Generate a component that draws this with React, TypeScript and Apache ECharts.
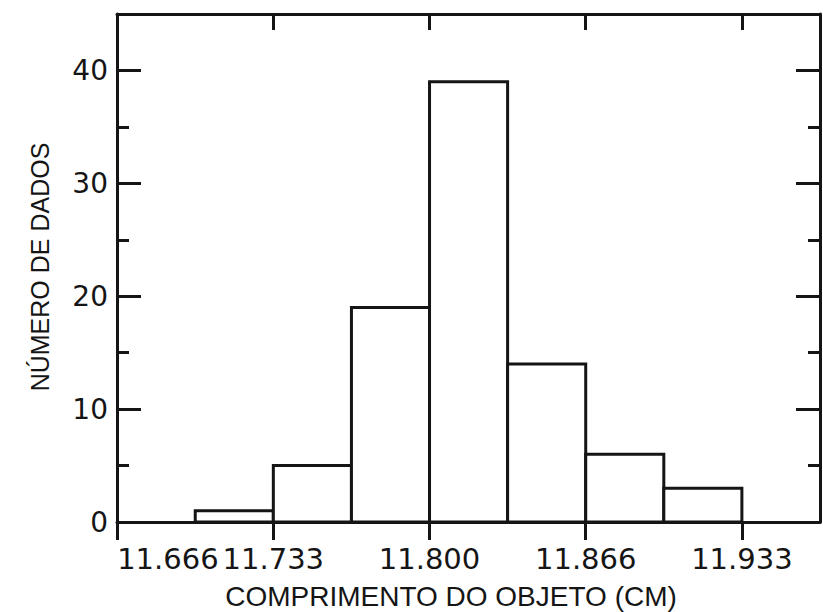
import React, { useEffect, useRef } from "react";
import * as echarts from "echarts";

// Histogram bins (cm) and counts
const binEdges = [11.7, 11.73333, 11.76667, 11.8, 11.83333, 11.86667, 11.9, 11.93333];
const counts = [1, 5, 19, 39, 14, 6, 3];

// Axis ticks
const xTickValues = [11.66667, 11.73333, 11.8, 11.86667, 11.93333];
const xTickLabels = ["11.666", "11.733", "11.800", "11.866", "11.933"];
// half-bin positions spanning the frame (tick axis: every other one is ticked)
const xHalfSteps = ["11.666", "11.700", "11.733", "11.767", "11.800", "11.833", "11.866", "11.900", "11.933", "11.967"];
const xMin = 11.6666;
const xMax = 11.96667;
const yMin = 0;
const yMax = 45;
const yMajor = 10;
const yMinor = 5;

const xTitle = "COMPRIMENTO DO OBJETO (CM)";
const yTitle = "NÚMERO DE DADOS";

const INK = "#151515";

export default function App() {
  const ref = useRef<HTMLDivElement>(null);

  useEffect(() => {
    if (!ref.current) return;
    const chart = echarts.init(ref.current, undefined, { renderer: "svg" });

    const data = counts.map((c, i) => [binEdges[i], binEdges[i + 1], c]);

    const gridBox = {
      left: 117,
      right: 3,
      top: 14,
      bottom: 90,
      containLabel: false,
      outerBoundsMode: "none",
    };

    const lineStyle = { color: INK, width: 3 };

    const option: any = {
      animation: false,
      backgroundColor: "#ffffff",
      grid: [gridBox, { ...gridBox }],
      xAxis: [
        {
          type: "value",
          gridIndex: 0,
          position: "bottom",
          min: xMin,
          max: xMax,
          axisLine: { show: true, onZero: false, lineStyle },
          axisTick: { show: false },
          axisLabel: {
            show: true,
            customValues: xTickValues,
            showMinLabel: true,
            hideOverlap: false,
            margin: 22,
            color: INK,
            fontFamily: "DejaVu Sans",
            fontSize: 29,
            alignMinLabel: "left",
            formatter: (v: number) => {
              const i = xTickValues.findIndex((t) => Math.abs(t - v) < 1e-4);
              return i >= 0 ? xTickLabels[i] : "";
            },
          },
          splitLine: { show: false },
        },
        {
          type: "value",
          gridIndex: 0,
          position: "top",
          min: xMin,
          max: xMax,
          axisLine: { show: true, onZero: false, lineStyle },
          axisTick: { show: false },
          axisLabel: { show: false },
          splitLine: { show: false },
        },
        {
          type: "category",
          gridIndex: 1,
          position: "bottom",
          data: xHalfSteps,
          boundaryGap: false,
          axisLine: { show: false, onZero: false },
          axisTick: { show: true, inside: false, length: 18, interval: 1, lineStyle },
          axisLabel: { show: false },
          splitLine: { show: false },
        },
        {
          type: "category",
          gridIndex: 1,
          position: "top",
          data: xHalfSteps,
          boundaryGap: false,
          axisLine: { show: false, onZero: false },
          axisTick: { show: true, inside: true, length: 16, interval: 1, lineStyle },
          axisLabel: { show: false },
          splitLine: { show: false },
        },
      ],
      yAxis: [
        {
          type: "value",
          gridIndex: 0,
          position: "left",
          min: yMin,
          max: yMax,
          interval: yMajor,
          axisLine: { show: true, onZero: false, lineStyle },
          axisTick: { show: true, inside: true, length: 24, lineStyle },
          axisLabel: {
            show: true,
            margin: 9,
            color: INK,
            fontFamily: "DejaVu Sans",
            fontSize: 28,
            showMaxLabel: false,
          },
          splitLine: { show: false },
        },
        {
          type: "value",
          gridIndex: 0,
          position: "right",
          min: yMin,
          max: yMax,
          interval: yMajor,
          axisLine: { show: true, onZero: false, lineStyle },
          axisTick: { show: true, inside: true, length: 24, lineStyle },
          axisLabel: { show: false },
          splitLine: { show: false },
        },
        {
          type: "value",
          gridIndex: 1,
          position: "left",
          min: yMin,
          max: yMax,
          interval: yMinor,
          axisLine: { show: false },
          axisTick: { show: true, inside: true, length: 12, lineStyle },
          axisLabel: { show: false },
          splitLine: { show: false },
        },
        {
          type: "value",
          gridIndex: 1,
          position: "right",
          min: yMin,
          max: yMax,
          interval: yMinor,
          axisLine: { show: false },
          axisTick: { show: true, inside: true, length: 12, lineStyle },
          axisLabel: { show: false },
          splitLine: { show: false },
        },
      ],
      series: [
        {
          type: "custom",
          xAxisIndex: 0,
          yAxisIndex: 0,
          encode: { x: [0, 1], y: 2 },
          data,
          renderItem: (_params: any, api: any) => {
            const p0 = api.coord([api.value(0), api.value(2)]);
            const p1 = api.coord([api.value(1), 0]);
            return {
              type: "rect",
              shape: {
                x: p0[0],
                y: p0[1],
                width: p1[0] - p0[0],
                height: p1[1] - p0[1],
              },
              style: { fill: "#ffffff", stroke: INK, lineWidth: 3 },
            };
          },
        },
      ],
      graphic: [
        {
          type: "text",
          x: 40,
          y: 267,
          rotation: Math.PI / 2,
          style: {
            text: yTitle,
            fill: INK,
            fontFamily: "Liberation Sans",
            fontSize: 25,
            align: "center",
            verticalAlign: "middle",
          },
        },
        {
          type: "text",
          x: 451,
          y: 596,
          style: {
            text: xTitle,
            fill: INK,
            fontFamily: "Liberation Sans",
            fontSize: 28,
            align: "center",
            verticalAlign: "middle",
          },
        },
      ],
    };

    chart.setOption(option);
    return () => chart.dispose();
  }, []);

  return (
    <div
      ref={ref}
      style={{ position: "fixed", left: 0, top: 0, width: 823, height: 612 }}
    />
  );
}
